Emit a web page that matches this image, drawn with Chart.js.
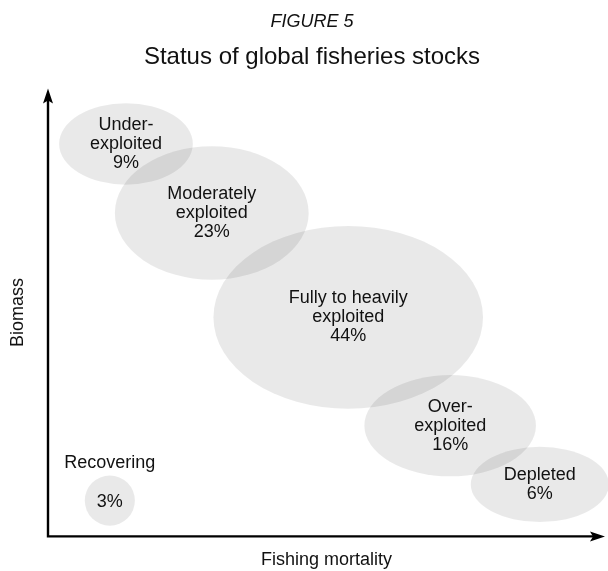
<!DOCTYPE html>
<html>
<head>
<meta charset="utf-8">
<title>Status of global fisheries stocks</title>
<script src="https://cdn.jsdelivr.net/npm/chart.js@4.4.1/dist/chart.umd.min.js"></script>
<style>
  html, body { margin: 0; padding: 0; background: #fff; }
  #wrap { width: 608px; height: 571px; position: relative; }
</style>
</head>
<body>
<div id="wrap"><canvas id="stocksChart"></canvas></div>
<script>
// Stock categories, placed by fishing mortality (x) and biomass (y), 0-100 relative units
const categories = [['Under-', 'exploited'], ['Moderately', 'exploited'], ['Fully to heavily', 'exploited'],
                    ['Over-', 'exploited'], ['Depleted'], ['Recovering']];
const shares = [9, 23, 44, 16, 6, 3];            // % of stocks
const fishingMortality = [14.0, 29.4, 53.9, 72.2, 88.3, 11.1];
const biomass = [87.6, 72.2, 48.9, 24.7, 11.6, 8.0];
const spreadX = [12.0, 17.4, 24.2, 15.4, 12.4, 4.5];  // half-width of each ellipse
const spreadY = [9.1, 14.9, 20.4, 11.3, 8.4, 5.6];    // half-height of each ellipse

const FONT = '"Liberation Sans", Arial, Helvetica, sans-serif';

// draws each stock group as a translucent ellipse, sized through the scales
const ellipsePlugin = {
    id: 'ellipses',
    beforeDatasetsDraw(chart) {
        const { ctx, scales: { x, y } } = chart;
        const meta = chart.getDatasetMeta(0);
        ctx.save();
        ctx.fillStyle = 'rgba(0,0,0,0.085)';
        meta.data.forEach((pt, i) => {
            const rx = x.getPixelForValue(fishingMortality[i] + spreadX[i]) - pt.x;
            const ry = pt.y - y.getPixelForValue(biomass[i] + spreadY[i]);
            ctx.beginPath();
            ctx.ellipse(pt.x, pt.y, rx, ry, 0, 0, Math.PI * 2);
            ctx.fill();
        });
        ctx.restore();
    },
    afterDatasetsDraw(chart) {
        const { ctx, scales: { x, y } } = chart;
        const meta = chart.getDatasetMeta(0);
        const lh = 19;
        ctx.save();
        ctx.font = '18px ' + FONT;
        ctx.fillStyle = '#111';
        ctx.textAlign = 'center';
        ctx.textBaseline = 'middle';
        meta.data.forEach((pt, i) => {
            const rx = x.getPixelForValue(fishingMortality[i] + spreadX[i]) - pt.x;
            const ry = pt.y - y.getPixelForValue(biomass[i] + spreadY[i]);
            const name = categories[i];
            const pct = shares[i] + '%';
            const widest = Math.max(...name.map(t => ctx.measureText(t).width));
            if (widest > rx * 2) {
                // name does not fit: put it above the ellipse
                name.forEach((t, k) => ctx.fillText(t, pt.x, pt.y - ry - 12 - (name.length - 1 - k) * lh));
                ctx.fillText(pct, pt.x, pt.y + 1);
            } else {
                const lines = name.concat([pct]);
                const top = pt.y - (lines.length - 1) * lh / 2;
                lines.forEach((t, k) => ctx.fillText(t, pt.x, top + k * lh));
            }
        });
        ctx.restore();
    }
};

// axis lines with arrow heads
const arrowAxes = {
    id: 'arrowAxes',
    afterDraw(chart) {
        const { ctx, chartArea: { left, right, top, bottom } } = chart;
        ctx.save();
        ctx.strokeStyle = '#000';
        ctx.fillStyle = '#000';
        ctx.lineWidth = 2.4;
        ctx.beginPath();
        ctx.moveTo(left, top + 8);
        ctx.lineTo(left, bottom);
        ctx.lineTo(right - 8, bottom);
        ctx.stroke();
        ctx.beginPath();
        ctx.moveTo(left, top);
        ctx.lineTo(left - 5, top + 15);
        ctx.lineTo(left, top + 12);
        ctx.lineTo(left + 5, top + 15);
        ctx.closePath();
        ctx.fill();
        ctx.beginPath();
        ctx.moveTo(right, bottom);
        ctx.lineTo(right - 15, bottom - 5);
        ctx.lineTo(right - 12, bottom);
        ctx.lineTo(right - 15, bottom + 5);
        ctx.closePath();
        ctx.fill();
        ctx.restore();
    }
};

const ctx = document.getElementById('stocksChart').getContext('2d');
new Chart(ctx, {
    type: 'scatter',
    data: {
        datasets: [{
            data: fishingMortality.map((v, i) => ({ x: v, y: biomass[i] })),
            pointRadius: 0,
            pointHoverRadius: 0
        }]
    },
    options: {
        responsive: true,
        maintainAspectRatio: false,
        animation: false,
        events: [],
        layout: { padding: { left: 19, right: 3, top: 0, bottom: 0 } },
        plugins: {
            legend: { display: false },
            tooltip: { enabled: false },
            title: {
                display: true,
                text: 'FIGURE 5',
                color: '#111',
                font: { family: FONT, size: 18, style: 'italic', weight: 'normal' },
                padding: { top: 11, bottom: 10 }
            },
            subtitle: {
                display: true,
                text: 'Status of global fisheries stocks',
                color: '#111',
                font: { family: FONT, size: 24, weight: 'normal' },
                padding: { top: 0, bottom: 17 }
            }
        },
        scales: {
            x: {
                min: 0, max: 100,
                grid: { display: false, drawTicks: false },
                border: { display: false },
                ticks: { display: false },
                title: {
                    display: true, text: 'Fishing mortality', color: '#111',
                    font: { family: FONT, size: 18 },
                    padding: { top: 13, bottom: 0 }
                }
            },
            y: {
                min: 0, max: 100,
                grid: { display: false, drawTicks: false },
                border: { display: false },
                ticks: { display: false },
                title: {
                    display: true, text: 'Biomass', color: '#111',
                    font: { family: FONT, size: 18 },
                    padding: { top: -12, bottom: 19.4 }
                }
            }
        }
    },
    plugins: [ellipsePlugin, arrowAxes]
});
</script>
</body>
</html>
